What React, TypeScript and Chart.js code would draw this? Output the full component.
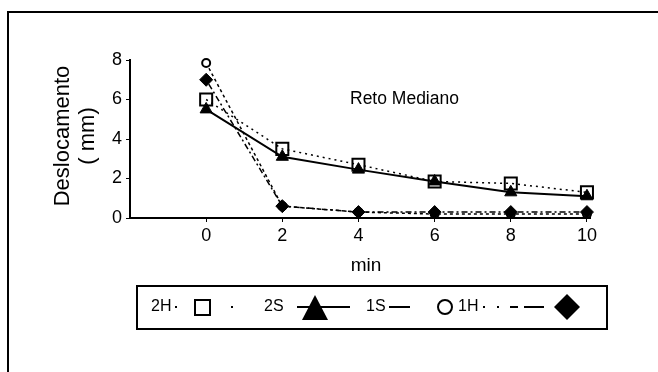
import React, { useEffect, useRef } from "react";
import { Chart, registerables } from "chart.js";

Chart.register(...registerables);

const minutes = [0, 2, 4, 6, 8, 10];
const s2H = [6.0, 3.5, 2.7, 1.85, 1.75, 1.3];
const s2S = [5.5, 3.1, 2.45, 1.85, 1.3, 1.1];
const s1S = [7.85, 0.6, 0.3, 0.2, 0.2, 0.2];
const s1H = [7.0, 0.6, 0.3, 0.3, 0.3, 0.3];
const xTicks = [0, 2, 4, 6, 8, 10];
const seriesNames = ["2H", "2S", "1S", "1H"];
const chartTitle = "Reto Mediano";
const yTitle = ["Deslocamento", "( mm)"];
const xTitle = "min";

const FONT = "'Liberation Sans', Arial, sans-serif";

const toXY = (ys: number[]) => minutes.map((x, i) => ({ x, y: ys[i] }));

const decorPlugin = {
  id: "decor",
  afterDraw(chart: any) {
    const ctx = chart.ctx;
    ctx.save();
    ctx.fillStyle = "#000";
    ctx.strokeStyle = "#000";
    // outer frame (top + left)
    ctx.lineWidth = 2;
    ctx.beginPath();
    ctx.moveTo(8, 372);
    ctx.lineTo(8, 12);
    ctx.lineTo(658, 12);
    ctx.stroke();

    // chart title
    ctx.font = `17.5px ${FONT}`;
    ctx.textAlign = "left";
    ctx.textBaseline = "middle";
    ctx.fillText(chartTitle, 350, 99);

    // y title
    ctx.save();
    ctx.translate(63, 136);
    ctx.rotate(-Math.PI / 2);
    ctx.font = `22px ${FONT}`;
    ctx.textAlign = "center";
    ctx.textBaseline = "middle";
    ctx.fillText(yTitle[0], 0, 0);
    ctx.fillText(yTitle[1], 0, 25);
    ctx.restore();

    // x title
    ctx.font = `19px ${FONT}`;
    ctx.textAlign = "center";
    ctx.textBaseline = "middle";
    ctx.fillText(xTitle, 366, 266);

    // legend box
    ctx.lineWidth = 2;
    ctx.strokeRect(137, 286, 470, 43);
    const cy = 307;
    ctx.font = `16px ${FONT}`;
    ctx.textAlign = "left";
    ctx.textBaseline = "middle";
    // 2H
    ctx.fillText(seriesNames[0], 151, cy);
    ctx.fillRect(175, cy - 1, 2, 2);
    ctx.strokeRect(195, cy - 7, 15, 15);
    ctx.fillRect(231, cy - 1, 2, 2);
    // 2S
    ctx.fillText(seriesNames[1], 264, cy);
    ctx.beginPath();
    ctx.moveTo(297, cy);
    ctx.lineTo(350, cy);
    ctx.stroke();
    ctx.beginPath();
    ctx.moveTo(315, cy - 12);
    ctx.lineTo(328, cy + 13);
    ctx.lineTo(302, cy + 13);
    ctx.closePath();
    ctx.fill();
    // 1S
    ctx.fillText(seriesNames[2], 366, cy);
    ctx.beginPath();
    ctx.moveTo(389, cy);
    ctx.lineTo(410, cy);
    ctx.stroke();
    ctx.beginPath();
    ctx.arc(445, cy, 7, 0, Math.PI * 2);
    ctx.stroke();
    // 1H
    ctx.fillText(seriesNames[3], 458, cy);
    ctx.fillRect(483, cy - 1, 2, 2);
    ctx.fillRect(497, cy - 1, 2, 2);
    ctx.fillRect(510, cy - 1, 8, 2);
    ctx.fillRect(524, cy - 1, 20, 2);
    ctx.beginPath();
    ctx.moveTo(567, cy - 13);
    ctx.lineTo(580, cy);
    ctx.lineTo(567, cy + 13);
    ctx.lineTo(554, cy);
    ctx.closePath();
    ctx.fill();
    ctx.restore();
  },
};

export default function App() {
  const ref = useRef<HTMLCanvasElement>(null);
  useEffect(() => {
    if (!ref.current) return;
    const common = {
      borderColor: "#000",
      pointBorderColor: "#000",
      showLine: true,
      tension: 0,
      clip: false,
    };
    const chart = new Chart(ref.current, {
      type: "scatter",
      data: {
        datasets: [
          {
            ...common,
            label: seriesNames[0],
            data: toXY(s2H),
            borderWidth: 1.5,
            borderDash: [2, 4],
            pointStyle: "rect",
            pointRadius: 8.5,
            pointBorderWidth: 2,
            pointBackgroundColor: "rgba(0,0,0,0)",
            order: 4,
          },
          {
            ...common,
            label: seriesNames[1],
            data: toXY(s2S),
            borderWidth: 2,
            pointStyle: "triangle",
            pointRadius: 7,
            pointBorderWidth: 1,
            pointBackgroundColor: "#000",
            order: 3,
          },
          {
            ...common,
            label: seriesNames[2],
            data: toXY(s1S),
            borderWidth: 1.5,
            borderDash: [3, 3],
            pointStyle: "circle",
            pointRadius: 4,
            pointBorderWidth: 2,
            pointBackgroundColor: "#fff",
            order: 2,
          },
          {
            ...common,
            label: seriesNames[3],
            data: toXY(s1H),
            borderWidth: 1.5,
            borderDash: [2, 3, 6, 3],
            pointStyle: "rectRot",
            pointRadius: 6.5,
            pointBorderWidth: 1,
            pointBackgroundColor: "#000",
            order: 1,
          },
        ],
      },
      options: {
        animation: false,
        responsive: false,
        maintainAspectRatio: false,
        layout: { padding: { left: 0, top: 60, right: 68, bottom: 0 } },
        plugins: {
          legend: { display: false },
          tooltip: { enabled: false },
          title: { display: false },
        },
        scales: {
          x: {
            type: "linear",
            min: -2,
            max: 10.08,
            afterBuildTicks: (scale: any) => {
              scale.ticks = xTicks.map((v) => ({ value: v }));
            },
            afterFit: (scale: any) => {
              scale.height = 372 - 218;
            },
            ticks: {
              color: "#000",
              font: { family: FONT, size: 18 },
              padding: 3,
              maxRotation: 0,
              autoSkip: false,
            },
            grid: {
              display: true,
              drawOnChartArea: false,
              drawTicks: true,
              tickLength: 4,
              color: "#000",
              lineWidth: 1,
            },
            border: { display: true, color: "#000", width: 2 },
          },
          y: {
            type: "linear",
            min: 0,
            max: 8,
            afterFit: (scale: any) => {
              scale.width = 130;
            },
            ticks: {
              stepSize: 1,
              color: "#000",
              font: { family: FONT, size: 18 },
              padding: 4,
              callback: (v: any) => (Number(v) % 2 === 0 ? String(v) : ""),
            },
            grid: {
              display: true,
              drawOnChartArea: false,
              drawTicks: true,
              tickLength: 4,
              color: "#000",
              lineWidth: 1,
            },
            border: { display: true, color: "#000", width: 2 },
          },
        },
      },
      plugins: [decorPlugin],
    } as any);
    return () => chart.destroy();
  }, []);
  return (
    <div style={{ position: "absolute", left: 0, top: 0, width: 658, height: 372, background: "#fff" }}>
      <canvas ref={ref} width={658} height={372} style={{ display: "block" }} />
    </div>
  );
}
